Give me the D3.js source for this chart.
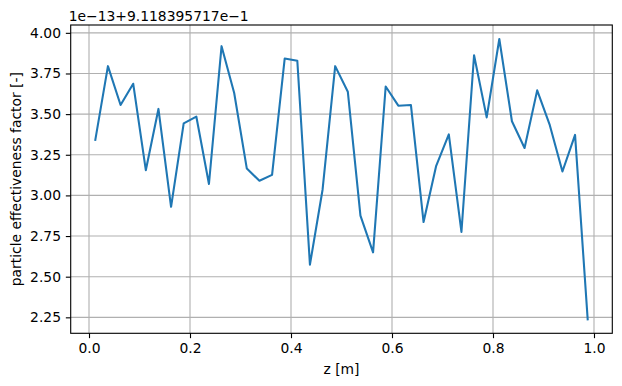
<!DOCTYPE html>
<html><head><meta charset="utf-8">
<script src="https://cdn.jsdelivr.net/npm/d3@7"></script>
<style>
html,body{margin:0;padding:0;background:#fff;}
text{font-family:"DejaVu Sans",sans-serif;fill:#000;}
</style></head>
<body>
<svg id="chart" width="622" height="386"></svg>
<script>
// z positions [m]
const zValues = [0.0125,0.0375,0.0625,0.0875,0.1125,0.1375,0.1625,0.1875,0.2125,0.2375,
  0.2625,0.2875,0.3125,0.3375,0.3625,0.3875,0.4125,0.4375,0.4625,0.4875,
  0.5125,0.5375,0.5625,0.5875,0.6125,0.6375,0.6625,0.6875,0.7125,0.7375,
  0.7625,0.7875,0.8125,0.8375,0.8625,0.8875,0.9125,0.9375,0.9625,0.9875];
// effectiveness factor, shown as (value - 9.118395717e-1) / 1e-13
const etaOffsetValues = [3.342,3.795,3.556,3.687,3.155,3.532,2.930,3.443,3.485,3.070,
  3.918,3.630,3.165,3.090,3.126,3.842,3.828,2.574,3.035,3.795,
  3.638,2.876,2.650,3.670,3.552,3.556,2.836,3.182,3.375,2.775,
  3.862,3.480,3.962,3.456,3.292,3.646,3.432,3.147,3.372,2.238];
const xTicks = [0.0,0.2,0.4,0.6,0.8,1.0];
const yTicks = [2.25,2.50,2.75,3.00,3.25,3.50,3.75,4.00];
const offsetLabel = "1e\u221213+9.118395717e\u22121";
const xLabel = "z [m]";
const yLabel = "particle effectiveness factor [-]";

const svg = d3.select("#chart");
const L = 70.7, R = 612.3, T = 25, B = 333.3;
const fs = 13.89;
const tickLen = 4.86, tickPad = 4.86;

function padded(ext){const d=ext[1]-ext[0];return [ext[0]-0.05*d, ext[1]+0.05*d];}
const x = d3.scaleLinear().domain(padded(d3.extent(zValues))).range([L,R]);
const y = d3.scaleLinear().domain(padded(d3.extent(etaOffsetValues))).range([B,T]);

// grid
const g = svg.append("g");
g.selectAll(".gx").data(xTicks).enter().append("line")
  .attr("x1",d=>x(d)).attr("x2",d=>x(d)).attr("y1",T).attr("y2",B)
  .attr("stroke","#b0b0b0").attr("stroke-width",1.11);
g.selectAll(".gy").data(yTicks).enter().append("line")
  .attr("x1",L).attr("x2",R).attr("y1",d=>y(d)).attr("y2",d=>y(d))
  .attr("stroke","#b0b0b0").attr("stroke-width",1.11);

// line
const data = zValues.map((z,i)=>[z,etaOffsetValues[i]]);
svg.append("path").datum(data)
  .attr("d", d3.line().x(d=>x(d[0])).y(d=>y(d[1])))
  .attr("fill","none").attr("stroke","#1f77b4").attr("stroke-width",2.08)
  .attr("stroke-linejoin","round").attr("stroke-linecap","square");

// spines
svg.append("rect").attr("x",L).attr("y",T).attr("width",R-L).attr("height",B-T)
  .attr("fill","none").attr("stroke","#000").attr("stroke-width",1.11);

// axes
const xAxis = d3.axisBottom(x).tickValues(xTicks).tickFormat(d3.format(".1f")).tickSize(tickLen).tickPadding(tickPad);
const yAxis = d3.axisLeft(y).tickValues(yTicks).tickFormat(d3.format(".2f")).tickSize(tickLen).tickPadding(tickPad);
const gx = svg.append("g").attr("transform",`translate(0,${B})`).call(xAxis);
const gy = svg.append("g").attr("transform",`translate(${L},0)`).call(yAxis);
[gx,gy].forEach(a=>{
  a.select(".domain").remove();
  a.selectAll(".tick line").attr("stroke","#000").attr("stroke-width",1.11);
  a.selectAll(".tick text").attr("font-size",fs).attr("font-family","DejaVu Sans").attr("fill","#000");
});

// labels
svg.append("text").attr("x",(L+R)/2).attr("y",374).attr("text-anchor","middle")
  .attr("font-size",fs).text(xLabel);
svg.append("text").attr("transform",`translate(21.2,${(T+B)/2}) rotate(-90)`)
  .attr("text-anchor","middle").attr("font-size",fs).text(yLabel);
svg.append("text").attr("x",L-2).attr("y",20.5).attr("font-size",fs).text(offsetLabel);
</script>
</body></html>
